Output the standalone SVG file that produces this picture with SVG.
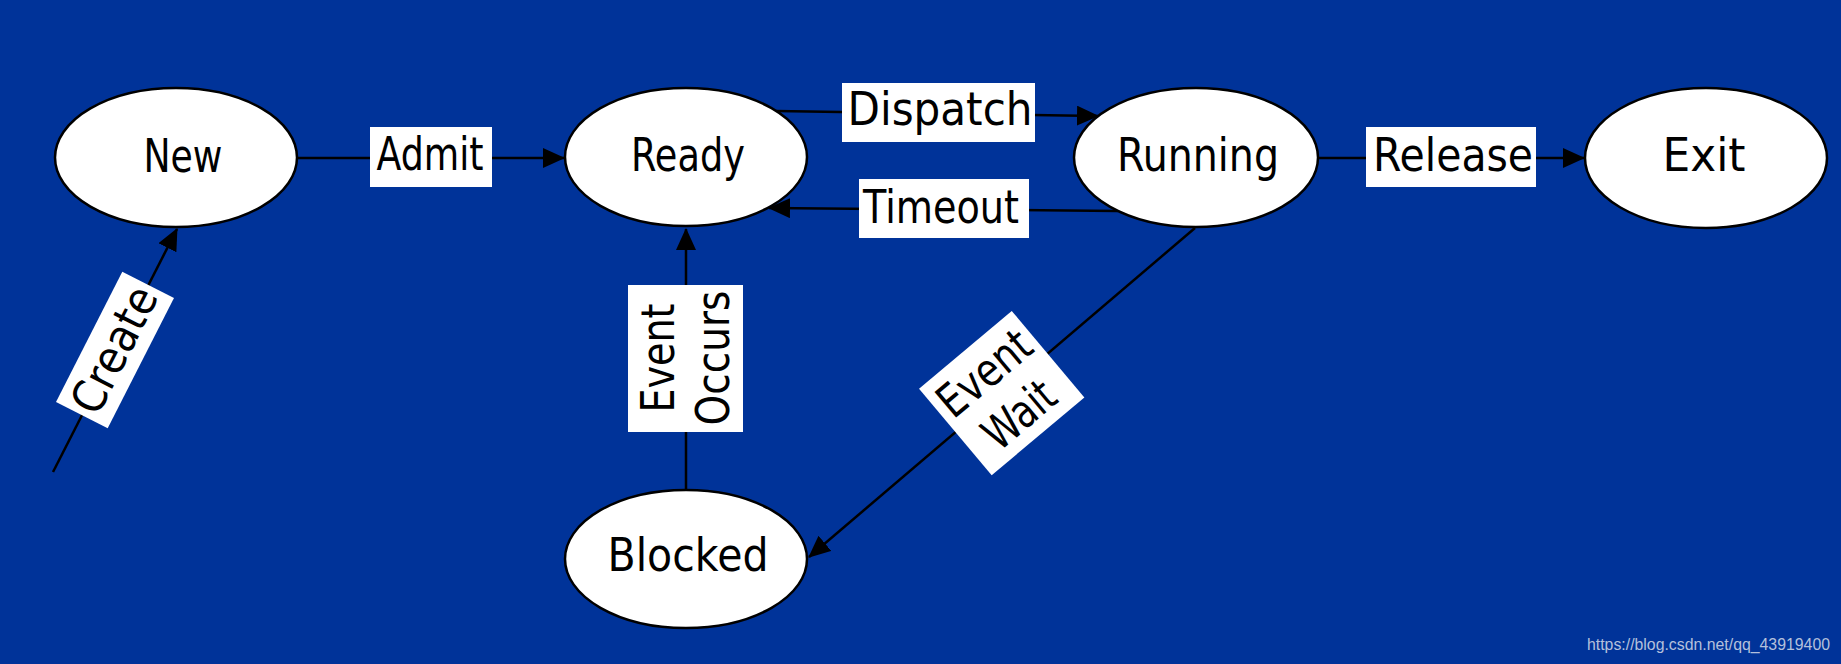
<svg xmlns="http://www.w3.org/2000/svg" width="1841" height="664" viewBox="0 0 1841 664">
<style>
.node ellipse{fill:#fff;stroke:#000;stroke-width:2.5}
.t{font-family:"DejaVu Sans",sans-serif;font-size:46px;fill:#000;text-anchor:middle}
.box{fill:#fff}
.edge{stroke:#000;stroke-width:2.5;fill:none}
.wm{font-family:"Liberation Sans",Arial,sans-serif;font-size:16px;fill:#b4c0dc}
</style>
<defs>
<marker id="ah" markerUnits="userSpaceOnUse" markerWidth="22" markerHeight="20" refX="21" refY="10" orient="auto">
<path d="M0,0 L22,10 L0,20 z" fill="#000"/>
</marker>
</defs>
<rect x="0" y="0" width="1841" height="664" fill="#003399"/>
<g id="connectors">
<line class="edge" x1="297" y1="158" x2="564" y2="158" marker-end="url(#ah)"/>
<line class="edge" x1="776" y1="111" x2="1098" y2="116" marker-end="url(#ah)"/>
<line class="edge" x1="1118" y1="211" x2="769" y2="208" marker-end="url(#ah)"/>
<line class="edge" x1="1318" y1="158" x2="1584" y2="158" marker-end="url(#ah)"/>
<line class="edge" x1="686" y1="490" x2="686" y2="229" marker-end="url(#ah)"/>
<line class="edge" x1="1195" y1="228" x2="809" y2="557" marker-end="url(#ah)"/>
<line class="edge" x1="53" y1="472" x2="177" y2="229" marker-end="url(#ah)"/>
<g id="lbl-admit"><rect class="box" x="370" y="127" width="122" height="60"/><text class="t" x="430" y="170" textLength="107" lengthAdjust="spacingAndGlyphs">Admit</text></g>
<g id="lbl-dispatch"><rect class="box" x="842" y="83" width="193" height="59"/><text class="t" x="940" y="125" textLength="185" lengthAdjust="spacingAndGlyphs">Dispatch</text></g>
<g id="lbl-timeout"><rect class="box" x="859" y="179" width="170" height="59"/><text class="t" x="941" y="223" textLength="156" lengthAdjust="spacingAndGlyphs">Timeout</text></g>
<g id="lbl-release"><rect class="box" x="1366" y="127" width="170" height="60"/><text class="t" x="1453" y="171" textLength="160" lengthAdjust="spacingAndGlyphs">Release</text></g>
<g id="lbl-occurs" transform="translate(685,358) rotate(-90)"><rect class="box" x="-74" y="-57" width="147" height="115"/><text class="t" x="0" y="-11" textLength="109" lengthAdjust="spacingAndGlyphs">Event</text><text class="t" x="0" y="44" textLength="135" lengthAdjust="spacingAndGlyphs">Occurs</text></g>
<g id="lbl-wait" transform="translate(1001,393) rotate(-40)"><rect class="box" x="-60" y="-56" width="121" height="113"/><text class="t" x="0" y="-10" textLength="108" lengthAdjust="spacingAndGlyphs">Event</text><text class="t" x="0" y="44" textLength="80" lengthAdjust="spacingAndGlyphs">Wait</text></g>
<g id="lbl-create" transform="translate(115,350) rotate(-63)"><rect class="box" x="-73" y="-29" width="146" height="58"/><text class="t" x="0" y="15" textLength="136" lengthAdjust="spacingAndGlyphs">Create</text></g>
</g>
<g id="node-new" class="node"><ellipse cx="176" cy="157.5" rx="121" ry="69.5"/><text class="t" x="183" y="172" textLength="79" lengthAdjust="spacingAndGlyphs">New</text></g>
<g id="node-ready" class="node"><ellipse cx="686" cy="157" rx="121" ry="69"/><text class="t" x="688" y="171" textLength="114" lengthAdjust="spacingAndGlyphs">Ready</text></g>
<g id="node-running" class="node"><ellipse cx="1196" cy="157.5" rx="122" ry="69.5"/><text class="t" x="1198" y="171" textLength="162" lengthAdjust="spacingAndGlyphs">Running</text></g>
<g id="node-exit" class="node"><ellipse cx="1706" cy="158" rx="121" ry="70"/><text class="t" x="1704" y="171" textLength="83" lengthAdjust="spacingAndGlyphs">Exit</text></g>
<g id="node-blocked" class="node"><ellipse cx="686" cy="559" rx="121" ry="69"/><text class="t" x="688" y="571" textLength="161" lengthAdjust="spacingAndGlyphs">Blocked</text></g>
<text class="wm" x="1587" y="650" textLength="243" lengthAdjust="spacingAndGlyphs">https://blog.csdn.net/qq_43919400</text>
</svg>
